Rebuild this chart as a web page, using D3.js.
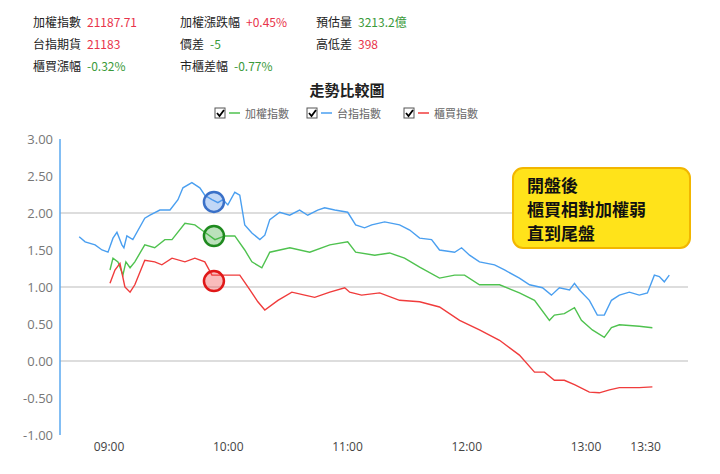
<!DOCTYPE html>
<html><head><meta charset="utf-8">
<script src="https://cdn.jsdelivr.net/npm/d3@7"></script>
<style>body{margin:0;background:#fff;font-family:"Noto Sans CJK TC","Noto Sans",sans-serif}</style>
</head><body><svg id="c" width="720" height="474"></svg>
<script>
// minutes since 09:00, percent change
const futures = [[-15,1.68],[-12,1.61],[-7,1.57],[-3.5,1.50],[-0.5,1.47],[2,1.66],[4,1.74],[6.5,1.57],[7.5,1.53],[9,1.69],[12,1.64],[18,1.93],[20.6,1.97],[25.6,2.04],[30.7,2.04],[34.7,2.18],[37.2,2.34],[41.7,2.41],[45.7,2.34],[48.2,2.24],[51.8,2.18],[54.8,2.14],[57.3,2.18],[59.8,2.11],[63.3,2.28],[65.8,2.24],[68.3,1.84],[71.9,1.73],[75.9,1.64],[78.4,1.70],[80.9,1.91],[85.9,2.01],[90.9,1.97],[95.9,2.04],[100,1.97],[105,2.04],[108.5,2.07],[113.6,2.04],[120.1,2.01],[124.1,1.84],[128.6,1.80],[132.2,1.84],[138.7,1.88],[146.2,1.84],[151.3,1.77],[156.3,1.66],[162.3,1.64],[166.3,1.50],[173.9,1.47],[177.4,1.53],[181.4,1.43],[186.4,1.34],[194,1.30],[199,1.23],[206.5,1.12],[211.6,1.03],[218.1,0.99],[222.6,0.89],[226.6,0.99],[231.7,0.96],[234.2,1.05],[236.7,0.96],[241.7,0.82],[245.7,0.62],[249.2,0.62],[252.8,0.82],[256.8,0.89],[261.8,0.93],[266.8,0.89],[270.9,0.92],[274.4,1.16],[276.9,1.14],[279.4,1.07],[281.9,1.16]];
const taiex = [[0.5,1.23],[2,1.39],[4.5,1.34],[7,1.16],[8.5,1.34],[10.6,1.26],[13,1.34],[18,1.57],[23,1.53],[28.1,1.64],[31.7,1.64],[38.2,1.86],[43.2,1.84],[48.2,1.74],[53.3,1.64],[58.3,1.69],[63.3,1.69],[68.3,1.50],[71.9,1.34],[76.9,1.26],[80.9,1.47],[91,1.53],[101,1.47],[111.1,1.57],[120.1,1.61],[124.1,1.47],[133.7,1.43],[141.2,1.46],[148.7,1.39],[156.3,1.27],[166.3,1.12],[173.9,1.16],[178.9,1.16],[186.4,1.03],[196.5,1.03],[206.5,0.92],[214.1,0.82],[221.6,0.55],[224.1,0.62],[229.1,0.64],[234.2,0.72],[237.7,0.55],[243.2,0.42],[249.2,0.32],[252.8,0.45],[256.8,0.49],[266.8,0.47],[273.4,0.45]];
const otc = [[0.5,1.05],[3,1.23],[5.5,1.32],[8,1.00],[10.6,0.93],[13,1.03],[18,1.36],[23,1.34],[26.6,1.30],[31.7,1.39],[38.2,1.34],[43.2,1.39],[48.2,1.34],[51.8,1.16],[58.3,1.16],[65.8,1.16],[70.9,0.96],[74.9,0.80],[78.4,0.69],[85,0.82],[92,0.93],[98.5,0.89],[103.5,0.86],[111.1,0.93],[118.6,0.99],[121.1,0.93],[127.1,0.89],[136.2,0.92],[146.2,0.82],[156.3,0.80],[166.3,0.73],[176.4,0.55],[186.4,0.42],[196.5,0.28],[206.5,0.08],[214.1,-0.15],[219.1,-0.15],[224.1,-0.26],[229.1,-0.26],[234.2,-0.32],[241.7,-0.42],[246.7,-0.43],[251.8,-0.39],[256.8,-0.36],[266.8,-0.36],[273.4,-0.35]];
const seriesNames = ["加權指數","台指指數","櫃買指數"];
const seriesColors = ["#4fc24f","#4a9ff0","#f03c3c"];
const yTicks = [3,2.5,2,1.5,1,0.5,0,-0.5,-1];
const gridVals = [2,1,0];
const xTicks = [[0,"09:00"],[60,"10:00"],[120,"11:00"],[180,"12:00"],[240,"13:00"],[270,"13:30"]];
const markMin = 52.8;
const markVals = [2.15,1.69,1.08];
const infoRows = [
 [["加權指數","21187.71","#e8334a"],["加權漲跌幅","+0.45%","#e8334a"],["預估量","3213.2億","#3a9a3a"]],
 [["台指期貨","21183","#e8334a"],["價差","-5","#3a9a3a"],["高低差","398","#e8334a"]],
 [["櫃買漲幅","-0.32%","#3a9a3a"],["市櫃差幅","-0.77%","#3a9a3a"]]
];
const noteLines = ["開盤後","櫃買相對加權弱","直到尾盤"];

const svg = d3.select("#c");
const x = d3.scaleLinear().domain([0,240]).range([109,586]);
const y = d3.scaleLinear().domain([-1,3]).range([435,139]);

// header
const colX=[33,180,316], valOff=[[55,87,72],[55,38,55],[55,87]];
infoRows.forEach((row,r)=>row.forEach((c,i)=>{
  const t=svg.append("text").attr("x",colX[i]).attr("y",27+r*22).attr("font-size",12);
  t.append("tspan").attr("fill","#222").text(c[0]);
  t.append("tspan").attr("dx",6).attr("fill",c[2]).text(c[1]);
}));
svg.append("text").attr("x",347).attr("y",96).attr("text-anchor","middle").attr("font-size",15).attr("font-weight","bold").attr("fill","#222").text("走勢比較圖");
// legend
const lx=[215,307,404];
seriesNames.forEach((n,i)=>{
  const g=svg.append("g").attr("transform",`translate(${lx[i]},108)`);
  g.append("rect").attr("width",10).attr("height",10).attr("fill","#fff").attr("stroke","#555");
  g.append("path").attr("d","M2,5 L4.5,8 L9,2").attr("fill","none").attr("stroke","#000").attr("stroke-width",1.8);
  g.append("line").attr("x1",14).attr("x2",25).attr("y1",5).attr("y2",5).attr("stroke",seriesColors[i]).attr("stroke-width",1.5);
  g.append("text").attr("x",30).attr("y",9.5).attr("font-size",11).attr("fill","#666").text(n);
});
// grid
svg.selectAll(".g").data(gridVals).enter().append("line").attr("x1",60).attr("x2",688)
  .attr("y1",d=>y(d)).attr("y2",d=>y(d)).attr("stroke","#bbb").attr("stroke-width",1);
// y axis
svg.append("line").attr("x1",60).attr("x2",60).attr("y1",y(3)).attr("y2",y(-1)).attr("stroke","#5aa8f0").attr("stroke-width",1.5);
svg.selectAll(".yt").data(yTicks).enter().append("text").attr("x",53).attr("y",d=>y(d)+5)
  .attr("text-anchor","end").attr("font-size",13).attr("fill","#777").attr("font-family","Open Sans, sans-serif").text(d=>d.toFixed(2));
svg.selectAll(".xt").data(xTicks).enter().append("text").attr("x",d=>x(d[0])).attr("y",451)
  .attr("text-anchor","middle").attr("font-size",12).attr("fill","#444").attr("font-family","Open Sans, sans-serif").text(d=>d[1]);
// lines
const line=d3.line().x(d=>x(d[0])).y(d=>y(d[1]));
[taiex,futures,otc].forEach((s,i)=>svg.append("path").datum(s).attr("d",line).attr("fill","none").attr("stroke",seriesColors[i]).attr("stroke-width",1.4));
// markers
const mFill=["rgba(60,170,60,0.35)","rgba(80,140,230,0.35)","rgba(240,60,60,0.35)"];
const mStroke=["#1f8a1f","#3a70c8","#e01818"];
[1,0,2].forEach(i=>{
  const v=[markVals[1],markVals[0],markVals[2]][[1,0,2].indexOf(i)];
});
markVals.forEach((v,k)=>{
  const idx=[1,0,2][k];
  svg.append("circle").attr("cx",x(markMin)).attr("cy",y(v)).attr("r",10).attr("fill",mFill[idx]).attr("stroke",mStroke[idx]).attr("stroke-width",2.5);
});
// note
svg.append("rect").attr("x",513).attr("y",168).attr("width",177).attr("height",80).attr("rx",10).attr("fill","#ffe31a").attr("stroke","#f2b600").attr("stroke-width",2);
noteLines.forEach((t,i)=>svg.append("text").attr("x",527).attr("y",192+i*24).attr("font-size",17).attr("font-weight","bold").attr("fill","#111").text(t));
</script></body></html>
